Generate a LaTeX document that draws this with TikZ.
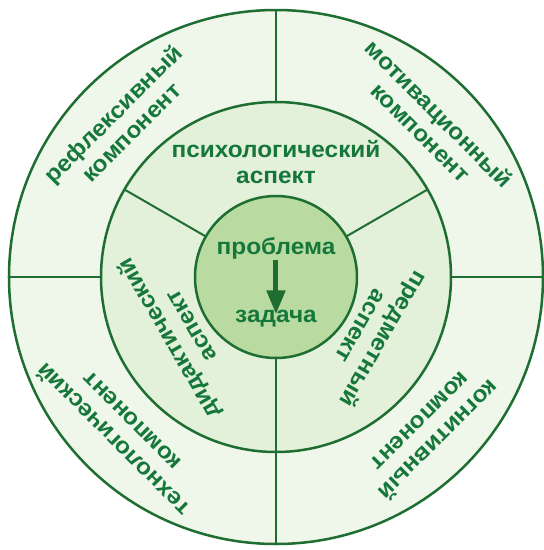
\documentclass[tikz,border=0pt]{standalone}
\usepackage{fontspec}
\setmainfont{Liberation Sans}
\newfontfamily\ringfont{Liberation Sans}[FakeStretch=1.06]
\usepackage{tikz}
\usetikzlibrary{arrows.meta,calc,positioning}
\definecolor{ringline}{HTML}{1E6E32}
\definecolor{ringtext}{HTML}{16773A}
\definecolor{outerfill}{HTML}{EFF7EB}
\definecolor{midfill}{HTML}{E3F0DA}
\definecolor{corefill}{HTML}{B9DBA2}
\tikzset{
  ring/.style={circle,draw=ringline,line width=2.5pt,inner sep=0pt,outer sep=0pt},
  divider/.style={draw=ringline,line width=2pt},
  lbl/.style={text=ringtext,font=\ringfont\fontsize{23}{26}\selectfont\bfseries,align=center,inner sep=2pt},
}

\begin{document}
\begin{tikzpicture}[x=1pt,y=1pt]
\useasboundingbox (-276,-273) rectangle (268,277);
% rings
\node[ring,fill=outerfill,minimum size=534pt] (O) at (0,0) {};
\node[ring,fill=midfill,minimum size=350pt] (M) at (0,0) {};
\node[ring,fill=corefill,minimum size=162pt] (C) at (0,0) {};
\foreach \a in {0,90,180,270} \draw[divider] (O.\a) -- (M.\a);
\foreach \a in {30,150,270} \draw[divider] (M.\a) -- (C.\a);
% outer ring
\node[lbl,rotate=45] (refl) at (135:218) {рефлексивный\\компонент};
\node[lbl,rotate=-45] (motiv) at (45:218) {мотивационный\\компонент};
\node[lbl,rotate=135] (techn) at (225:218) {технологический\\компонент};
\node[lbl,rotate=225] (cogn) at (315:218) {когнитивный\\компонент};
% middle ring
\node[lbl] (psych) at (90:115) {психологический\\аспект};
\node[lbl,rotate=120] (didakt) at (210:112) {дидактический\\аспект};
\node[lbl,rotate=240] (predm) at (330:112) {предметный\\аспект};
% core
\node[lbl] (prob) at (0,29) {проблема};
\node[lbl] (task) at (0,-42) {задача};
\draw[ringline,line width=5pt,-{Triangle[width=18pt,length=24pt]},shorten >=-6pt,shorten <=-1pt] (prob) -- (task);
\end{tikzpicture}
\end{document}
